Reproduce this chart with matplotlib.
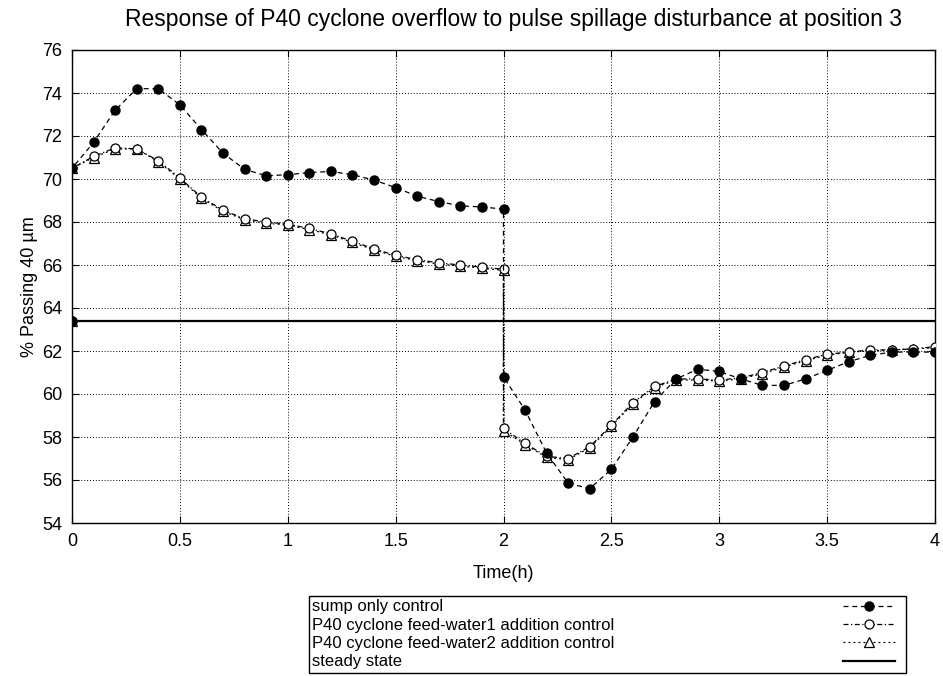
import matplotlib as mpl
import matplotlib.pyplot as plt

mpl.rcParams.update({
    "font.family": ["Liberation Sans", "DejaVu Sans"],
    "axes.linewidth": 1.0,
})

# time axis: the repeated 0.0 and 2.0 entries are the step at the start
# of the spillage pulse and at its removal
time_h = [0.0, 0.0, 0.1, 0.2, 0.3, 0.4, 0.5, 0.6, 0.7, 0.8, 0.9, 1.0,
          1.1, 1.2, 1.3, 1.4, 1.5, 1.6, 1.7, 1.8, 1.9, 2.0,
          2.0, 2.1, 2.2, 2.3, 2.4, 2.5, 2.6, 2.7, 2.8, 2.9, 3.0,
          3.1, 3.2, 3.3, 3.4, 3.5, 3.6, 3.7, 3.8, 3.9, 4.0]

sump_only = [63.4, 70.5, 71.7, 73.2, 74.2, 74.2, 73.45, 72.3, 71.2, 70.45, 70.15, 70.2,
             70.3, 70.35, 70.2, 69.95, 69.6, 69.2, 68.95, 68.75, 68.7, 68.6,
             60.8, 59.25, 57.25, 55.85, 55.6, 56.5, 58.0, 59.65, 60.7, 61.15, 61.05,
             60.7, 60.4, 60.4, 60.7, 61.1, 61.5, 61.8, 61.95, 61.95, 61.95]

feed_water1 = [63.4, 70.5, 71.05, 71.45, 71.4, 70.85, 70.05, 69.15, 68.55, 68.15, 68.0, 67.9,
               67.7, 67.45, 67.1, 66.75, 66.45, 66.25, 66.1, 66.0, 65.9, 65.8,
               58.4, 57.7, 57.1, 57.0, 57.55, 58.55, 59.6, 60.35, 60.7, 60.7, 60.65,
               60.75, 61.0, 61.3, 61.6, 61.85, 61.95, 62.05, 62.05, 62.1, 62.2]

feed_water2 = [63.4, 70.5, 71.0, 71.4, 71.4, 70.8, 70.0, 69.1, 68.5, 68.1, 67.95, 67.85,
               67.65, 67.4, 67.05, 66.7, 66.4, 66.2, 66.05, 65.95, 65.85, 65.75,
               58.3, 57.65, 57.05, 56.95, 57.5, 58.5, 59.55, 60.3, 60.65, 60.65, 60.6,
               60.7, 60.95, 61.25, 61.55, 61.8, 61.95, 62.0, 62.05, 62.1, 62.15]

steady_state = 63.4

labels = ["sump only control",
          "P40 cyclone feed-water1 addition control",
          "P40 cyclone feed-water2 addition control",
          "steady state"]

W, H = 943, 676
fig = plt.figure(figsize=(W / 100, H / 100), dpi=100)
ax = fig.add_axes([72 / W, 1 - 523 / H, (935 - 72) / W, (523 - 50) / H])

lw = 0.9
h_fw2, = ax.plot(time_h, feed_water2, color="black", lw=lw, linestyle=(0, (1.5, 2.5)),
                 marker="^", ms=7, mfc="white", mec="black", mew=0.9, zorder=3)
h_fw1, = ax.plot(time_h, feed_water1, color="black", lw=lw, linestyle=(0, (4, 2, 1, 2)),
                 marker="o", ms=6.5, mfc="white", mec="black", mew=0.9, zorder=4)
h_sump, = ax.plot(time_h, sump_only, color="black", lw=lw, linestyle=(0, (4, 3)),
                  marker="o", ms=6.5, mfc="black", mec="black", zorder=5)
h_ss = ax.axhline(steady_state, color="black", lw=1.6, zorder=2)

ax.set_xlim(0, 4)
ax.set_ylim(54, 76)
ax.set_xticks([0, 0.5, 1, 1.5, 2, 2.5, 3, 3.5, 4])
ax.set_xticklabels(["0", "0.5", "1", "1.5", "2", "2.5", "3", "3.5", "4"])
ax.set_yticks(range(54, 77, 2))
ax.tick_params(direction="in", top=True, right=True, length=5, width=0.8,
               labelsize=13)
ax.tick_params(axis="x", pad=7)
ax.tick_params(axis="y", pad=7)
ax.grid(True, color="black", linestyle=(0, (1, 2)), linewidth=0.7)

ax.set_title("Response of P40 cyclone overflow to pulse spillage disturbance at position 3",
             fontsize=16.5, pad=17, x=0.512)
ax.set_xlabel("Time(h)", fontsize=13, labelpad=11)
ax.set_ylabel("% Passing 40 \u00b5m", fontsize=13, labelpad=3)

# gnuplot-style key: labels flush left, samples flush right
handles = [h_sump, h_fw1, h_fw2, h_ss]
leg = fig.legend(handles + handles, labels + ["", "", "", ""], ncol=2, mode="expand",
                 loc="upper left",
                 bbox_to_anchor=(309 / W, 1 - 671 / H, (906 - 309) / W, (671 - 596) / H),
                 bbox_transform=fig.transFigure, borderaxespad=0, borderpad=0.2,
                 fancybox=False, edgecolor="black", framealpha=1, fontsize=12,
                 handlelength=3.15, handletextpad=0.45, labelspacing=0.2,
                 columnspacing=1.0)
leg.get_frame().set_linewidth(1.0)
label_col = leg._legend_handle_box.get_children()[0]
for item in label_col.get_children():
    item.get_children()[0].set_visible(False)

fig.savefig("out.png", dpi=100)
